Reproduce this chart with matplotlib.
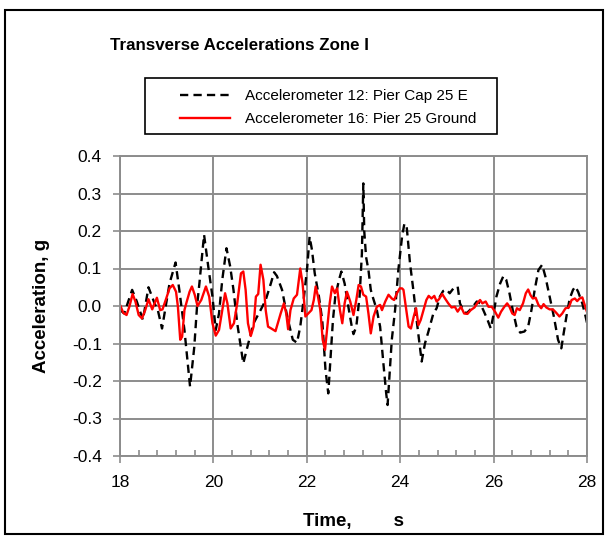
import numpy as np
import matplotlib
matplotlib.use("Agg")
import matplotlib.pyplot as plt
from matplotlib.patches import Rectangle
from matplotlib.ticker import MultipleLocator, FormatStrFormatter

# dados (tempo em s, aceleracao em g)
t_acc12 = [18.00, 18.09, 18.26, 18.36, 18.49, 18.61, 18.74, 18.81, 18.90, 19.06,
           19.19, 19.27, 19.38, 19.50, 19.59, 19.65, 19.70, 19.80, 19.89, 19.98,
           20.05, 20.12, 20.19, 20.28, 20.36, 20.43, 20.51, 20.64, 20.73, 20.86,
           21.01, 21.12, 21.23, 21.30, 21.36, 21.47, 21.58, 21.70, 21.79, 21.86,
           21.94, 22.01, 22.06, 22.11, 22.17, 22.26, 22.33, 22.40, 22.46, 22.51,
           22.56, 22.61, 22.69, 22.74, 22.81, 22.89, 22.97, 23.00, 23.06, 23.13,
           23.18, 23.21, 23.23, 23.27, 23.32, 23.37, 23.41, 23.50, 23.57, 23.64,
           23.70, 23.73, 23.77, 23.82, 23.89, 23.96, 24.04, 24.09, 24.14, 24.21,
           24.29, 24.36, 24.43, 24.46, 24.53, 24.60, 24.71, 24.78, 24.85, 24.92,
           24.99, 25.06, 25.14, 25.23, 25.28, 25.35, 25.42, 25.53, 25.64, 25.71,
           25.78, 25.87, 25.94, 25.99, 26.06, 26.14, 26.21, 26.27, 26.34, 26.41,
           26.49, 26.57, 26.66, 26.74, 26.81, 26.88, 26.96, 27.04, 27.11, 27.20,
           27.29, 27.38, 27.45, 27.50, 27.57, 27.63, 27.70, 27.75, 27.81, 27.90,
           27.97, 28.00]
a_acc12 = [-0.010, -0.020, 0.043, 0.012, -0.037, 0.050, 0.007, -0.011, -0.060, 0.060,
           0.116, 0.043, -0.064, -0.215, -0.110, 0.000, 0.060, 0.190, 0.105, 0.025,
           -0.064, -0.020, 0.070, 0.154, 0.105, 0.043, -0.046, -0.153, -0.108, -0.046,
           -0.011, 0.016, 0.060, 0.090, 0.080, 0.043, -0.028, -0.090, -0.098, -0.055,
           0.025, 0.105, 0.185, 0.150, 0.087, 0.025, -0.037, -0.170, -0.233, -0.135,
           -0.037, 0.025, 0.070, 0.092, 0.060, -0.002, -0.060, -0.075, -0.055, 0.025,
           0.140, 0.327, 0.200, 0.130, 0.096, 0.043, 0.025, -0.011, -0.055, -0.153,
           -0.233, -0.264, -0.188, -0.090, -0.011, 0.096, 0.185, 0.220, 0.210, 0.114,
           0.034, -0.046, -0.117, -0.148, -0.100, -0.070, -0.020, -0.006, 0.025, 0.040,
           0.044, 0.034, 0.047, 0.052, 0.007, -0.011, -0.020, -0.006, 0.012, 0.007,
           -0.011, -0.037, -0.060, -0.028, 0.025, 0.060, 0.080, 0.070, 0.034, -0.011,
           -0.055, -0.071, -0.068, -0.055, -0.011, 0.043, 0.096, 0.110, 0.078, 0.025,
           -0.028, -0.090, -0.113, -0.073, -0.020, 0.020, 0.043, 0.052, 0.038, 0.007,
           -0.028, -0.045]

t_acc16 = [18.00, 18.07, 18.14, 18.20, 18.27, 18.33, 18.40, 18.47, 18.54, 18.61,
           18.69, 18.74, 18.79, 18.86, 18.91, 18.99, 19.06, 19.13, 19.20, 19.24,
           19.29, 19.33, 19.38, 19.43, 19.49, 19.54, 19.60, 19.66, 19.74, 19.84,
           19.91, 19.98, 20.05, 20.12, 20.19, 20.25, 20.30, 20.37, 20.44, 20.51,
           20.59, 20.64, 20.69, 20.74, 20.80, 20.86, 20.91, 20.96, 21.01, 21.07,
           21.12, 21.17, 21.24, 21.33, 21.44, 21.51, 21.56, 21.60, 21.65, 21.72,
           21.79, 21.86, 21.91, 21.97, 22.03, 22.10, 22.15, 22.19, 22.24, 22.29,
           22.34, 22.39, 22.44, 22.49, 22.54, 22.60, 22.65, 22.71, 22.76, 22.81,
           22.86, 22.93, 23.00, 23.06, 23.11, 23.16, 23.21, 23.27, 23.32, 23.37,
           23.43, 23.50, 23.57, 23.61, 23.68, 23.75, 23.82, 23.87, 23.93, 23.99,
           24.04, 24.07, 24.13, 24.18, 24.23, 24.29, 24.34, 24.39, 24.44, 24.50,
           24.56, 24.61, 24.67, 24.73, 24.78, 24.83, 24.90, 24.96, 25.03, 25.10,
           25.17, 25.23, 25.30, 25.37, 25.44, 25.51, 25.59, 25.66, 25.71, 25.76,
           25.83, 25.89, 25.96, 26.03, 26.10, 26.16, 26.23, 26.29, 26.34, 26.40,
           26.45, 26.50, 26.56, 26.63, 26.69, 26.74, 26.79, 26.84, 26.90, 26.96,
           27.02, 27.07, 27.13, 27.20, 27.27, 27.34, 27.41, 27.47, 27.54, 27.61,
           27.67, 27.74, 27.79, 27.84, 27.90, 27.95, 28.00]
a_acc16 = [0.003, -0.018, -0.024, -0.002, 0.032, 0.012, -0.024, -0.033, -0.011, 0.018,
           -0.009, 0.007, 0.022, -0.011, -0.009, 0.020, 0.047, 0.056, 0.038, -0.002,
           -0.090, -0.082, -0.011, 0.012, 0.038, 0.052, 0.030, 0.000, 0.016, 0.052,
           0.025, -0.046, -0.079, -0.064, -0.011, 0.034, 0.007, -0.060, -0.046, 0.007,
           0.087, 0.092, 0.043, -0.046, -0.080, -0.055, 0.025, 0.032, 0.110, 0.070,
           -0.011, -0.055, -0.060, -0.067, -0.020, 0.007, -0.020, -0.062, -0.011, 0.020,
           0.030, 0.100, 0.060, -0.028, -0.020, -0.011, 0.016, 0.052, 0.025, -0.011,
           -0.090, -0.117, -0.055, 0.007, 0.052, 0.034, 0.047, -0.011, -0.046, 0.007,
           0.038, 0.012, -0.024, 0.016, 0.056, 0.052, 0.030, 0.025, -0.020, -0.073,
           -0.028, -0.002, 0.003, -0.011, 0.012, 0.030, 0.020, 0.016, 0.034, 0.047,
           0.047, 0.043, -0.011, -0.055, -0.060, -0.028, -0.006, -0.051, -0.037, -0.011,
           0.016, 0.027, 0.020, 0.027, 0.012, 0.018, 0.032, 0.020, 0.007, -0.004,
           -0.002, -0.015, -0.002, -0.020, -0.021, -0.011, -0.004, 0.009, 0.016, 0.007,
           0.012, -0.002, -0.002, -0.015, -0.031, -0.015, -0.002, 0.007, -0.002, -0.020,
           -0.024, -0.006, -0.011, 0.007, 0.034, 0.044, 0.029, 0.020, 0.022, 0.003,
           -0.006, 0.005, -0.004, -0.009, -0.009, -0.018, -0.028, -0.020, -0.006, -0.004,
           0.016, 0.020, 0.013, 0.020, 0.023, 0.003, -0.016]

label12 = "Accelerometer 12: Pier Cap 25 E"
label16 = "Accelerometer 16: Pier 25 Ground"

plt.rcParams['font.family'] = ['Liberation Sans', 'DejaVu Sans']

fig = plt.figure(figsize=(6.08, 5.36), dpi=100)
ax = fig.add_axes([120/608, 1-456/536, 467/608, 300/536])

grid_cor = "#8c8c8c"

ax.plot(t_acc12, a_acc12, color="black", linestyle="--", dashes=(3.5, 2.2), linewidth=1.7, label=label12)
ax.plot(t_acc16, a_acc16, color="red", linewidth=1.7, label=label16)

ax.set_xlim(18, 28)
ax.set_ylim(-0.4, 0.4)
ax.xaxis.set_major_locator(MultipleLocator(2))
ax.xaxis.set_minor_locator(MultipleLocator(0.4))
ax.yaxis.set_major_locator(MultipleLocator(0.1))
ax.yaxis.set_major_formatter(FormatStrFormatter('%.1f'))
ax.grid(True, which="major", color=grid_cor, linewidth=1.4)
ax.set_axisbelow(True)
for s in ax.spines.values():
    s.set_color(grid_cor)
    s.set_linewidth(1.4)
ax.tick_params(axis="both", which="major", direction="out", length=5, width=1.2,
               color=grid_cor, labelsize=12.5, pad=8)
ax.tick_params(axis="x", which="minor", direction="in", length=4, width=1.2, color=grid_cor)
ax.tick_params(axis="x", which="major", pad=9)

ax.set_xlabel("Time,        s", fontsize=13.5, fontweight="bold", labelpad=16)
ax.set_ylabel("Acceleration, g", fontsize=13.5, fontweight="bold", labelpad=16)

fig.text(110/608, 1-45/536, "Transverse Accelerations Zone I", fontsize=12.2,
         fontweight="bold", ha="left", va="center")

# legenda sem moldura + retangulo desenhado a parte
leg = fig.legend(loc="upper left", bbox_to_anchor=(180/608, 1-89/536), frameon=False,
                 fontsize=11, borderpad=0, borderaxespad=0, handlelength=3.25,
                 handletextpad=1.0, labelspacing=0.6)
fig.add_artist(Rectangle((145/608, 1-134/536), 352/608, 56/536, transform=fig.transFigure,
                         fill=False, edgecolor="black", linewidth=1.2))

# moldura externa
fig.add_artist(Rectangle((5/608, 2/536), 598/608, 524/536, transform=fig.transFigure,
                         fill=False, edgecolor="black", linewidth=1.5))

fig.savefig("out.png", dpi=100)
